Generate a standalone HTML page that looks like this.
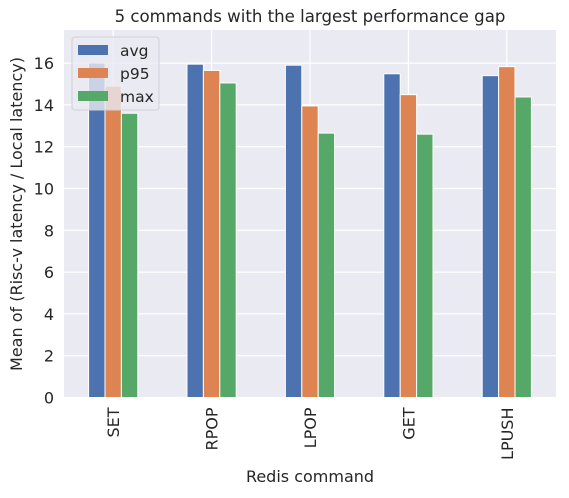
<!DOCTYPE html>
<html><head><meta charset="utf-8"><style>
body{margin:0;background:#fff;}
svg text{font-family:"DejaVu Sans","Liberation Sans",sans-serif;fill:#262626;}
</style></head><body>
<svg id="chart" width="569" height="493">
<rect x="64" y="30" width="492" height="367.5" fill="#eaeaf2"/>
<g id="grid"></g><g id="bars"></g><g id="axes"></g>
<text x="310" y="22" font-size="16.6" text-anchor="middle">5 commands with the largest performance gap</text>
<text x="310" y="482" font-size="16" text-anchor="middle">Redis command</text>
<text transform="translate(22,214) rotate(-90)" font-size="16" text-anchor="middle">Mean of (Risc-v latency / Local latency)</text>
<g>
<rect x="72" y="37" width="87" height="73" rx="3" fill="#eaeaf2" fill-opacity="0.8" stroke="#d0d0d8"/>
<rect x="78" y="45" width="30" height="10" fill="#4c72b0"/>
<text x="120" y="56" font-size="15.5">avg</text>
<rect x="78" y="68" width="30" height="10" fill="#dd8452"/>
<text x="120" y="79" font-size="15.5">p95</text>
<rect x="78" y="91" width="30" height="10" fill="#55a868"/>
<text x="120" y="102" font-size="15.5">max</text>
</g>
</svg>
<script>
const categories=["SET","RPOP","LPOP","GET","LPUSH"];
const avgValues=[16.0,15.95,15.9,15.49,15.4];
const p95Values=[14.9,15.65,13.95,14.49,15.83];
const maxValues=[13.6,15.05,12.65,12.6,14.38];
const yTicks=[0,2,4,6,8,10,12,14,16];
const seriesNames=["avg","p95","max"];
const colors=["#4c72b0","#dd8452","#55a868"];
const NS="http://www.w3.org/2000/svg";
const L=64,R=556,B=397.5,unit=20.9;
const y=v=>B-v*unit;
const step=(R-L)/categories.length;
const cx=i=>L+step*(i+0.5);
const bw=step*0.5/3;
function mk(t,a,p){const e=document.createElementNS(NS,t);for(const k in a)e.setAttribute(k,a[k]);p.appendChild(e);return e;}
const grid=document.getElementById('grid'),bars=document.getElementById('bars'),axes=document.getElementById('axes');
yTicks.forEach(v=>{
 const l=mk('line',{x1:L,x2:R,y1:y(v),y2:y(v),stroke:'#fff','stroke-width':1.2},grid);
 
 
 const t=mk('text',{x:L-10,y:y(v)+6,'font-size':16,'text-anchor':'end'},axes);
 t.textContent=v;
 
 
});
categories.forEach((c,i)=>{
 const l=mk('line',{x1:cx(i),x2:cx(i),y1:30,y2:B,stroke:'#fff','stroke-width':1.2},grid);
 
 
 const t=mk('text',{transform:`translate(${cx(i)+6},${B+10}) rotate(-90)`,'font-size':16,'text-anchor':'end'},axes);
 t.textContent=c;
 
 
});
[avgValues,p95Values,maxValues].forEach((vals,s)=>{
 vals.forEach((v,i)=>{
  const x=cx(i)-1.5*bw+s*bw;
  const r=mk('rect',{x:x,y:y(v),width:bw,height:B-y(v),fill:colors[s],stroke:'#fff','stroke-width':1},bars);
  
  
 });
});
</script>
</body></html>
